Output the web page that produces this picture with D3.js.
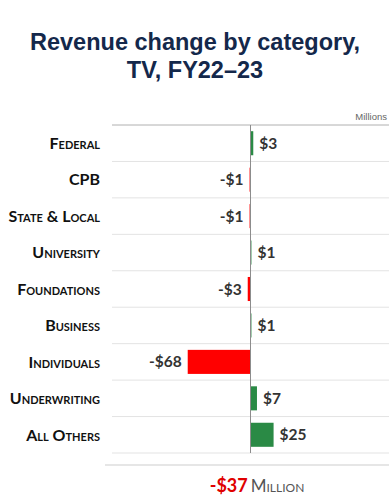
<!DOCTYPE html>
<html>
<head>
<meta charset="utf-8">
<script src="https://cdn.jsdelivr.net/npm/d3@7"></script>
<style>
  body { margin: 0; background: #fff; }
  svg { display: block; }
  .cat { font-family: Lato, "Open Sans", sans-serif; font-weight: 700; font-variant: small-caps; font-size: 16px; fill: #111; }
  .val { font-family: Lato, "Open Sans", sans-serif; font-weight: 700; font-size: 15.5px; fill: #333; }
</style>
</head>
<body>
<svg width="389" height="500"></svg>
<script>
// data
var categories = ["Federal", "CPB", "State & Local", "University", "Foundations", "Business", "Individuals", "Underwriting", "All Others"];
var changes = [3, -1, -1, 1, -3, 1, -68, 7, 25];
var valueLabels = ["$3", "-$1", "-$1", "$1", "-$3", "$1", "-$68", "$7", "$25"];
var total = "-$37";

var svg = d3.select("svg"),
    width = +svg.attr("width");

// title
var title = svg.append("text")
    .attr("x", 195)
    .attr("text-anchor", "middle")
    .style("font-family", "'Liberation Sans', Arial, sans-serif")
    .style("font-weight", "bold")
    .style("font-size", "23.5px")
    .style("fill", "#14284b");
title.append("tspan").attr("x", 195).attr("y", 50).text("Revenue change by category,");
title.append("tspan").attr("x", 195).attr("y", 78).text("TV, FY22\u201323");

var x = d3.scaleLinear()
    .domain([-150, 150])
    .range([112, 389]);

var y = d3.scaleBand()
    .domain(categories)
    .range([125, 453])
    .paddingInner(0.34)
    .paddingOuter(0.17);

var step = y.step();

svg.append("text")
    .attr("x", 387)
    .attr("y", 120)
    .attr("text-anchor", "end")
    .style("font-family", "'Liberation Sans', Arial, sans-serif")
    .style("font-size", "9.5px")
    .style("fill", "#666")
    .text("Millions");

// top line + row gridlines
var lines = [125].concat(categories.map(function(d, i) { return 125 + step * (i + 1); }));
svg.selectAll(".grid")
    .data(lines)
    .enter().append("line")
    .attr("class", "grid")
    .attr("x1", 112)
    .attr("x2", width)
    .attr("y1", function(d) { return d; })
    .attr("y2", function(d) { return d; })
    .attr("stroke", function(d, i) { return i === 0 ? "#b0b0b0" : "#e3e3e3"; })
    .attr("stroke-width", 1);

// bars
svg.selectAll(".bar")
    .data(changes)
    .enter().append("rect")
    .attr("class", "bar")
    .attr("x", function(d) { return x(Math.min(0, d)); })
    .attr("y", function(d, i) { return y(categories[i]); })
    .attr("width", function(d) { return Math.abs(x(d) - x(0)); })
    .attr("height", y.bandwidth())
    .attr("fill", function(d) { return d < 0 ? "#ff0000" : "#2a8a45"; });

// zero line
svg.append("line")
    .attr("x1", x(0)).attr("x2", x(0))
    .attr("y1", 125).attr("y2", 453)
    .attr("stroke", "#8c8c8c")
    .attr("stroke-width", 1);

// category labels
svg.selectAll(".cat")
    .data(categories)
    .enter().append("text")
    .attr("class", "cat")
    .attr("x", 100)
    .attr("y", function(d) { return y(d) + y.bandwidth() / 2; })
    .attr("dy", "0.36em")
    .attr("text-anchor", "end")
    .text(function(d) { return d; });

// value labels
svg.selectAll(".val")
    .data(changes)
    .enter().append("text")
    .attr("class", "val")
    .attr("x", function(d) { return d < 0 ? x(d) - 6 : x(d) + 6; })
    .attr("y", function(d, i) { return y(categories[i]) + y.bandwidth() / 2; })
    .attr("dy", "0.36em")
    .attr("text-anchor", function(d) { return d < 0 ? "end" : "start"; })
    .text(function(d, i) { return valueLabels[i]; });

// bottom separator and total
svg.append("line")
    .attr("x1", 105).attr("x2", width)
    .attr("y1", 465).attr("y2", 465)
    .attr("stroke", "#e6e6e6")
    .attr("stroke-width", 2);

var tot = svg.append("text")
    .attr("x", 257)
    .attr("y", 492)
    .attr("text-anchor", "middle")
    .style("font-family", "Lato, 'Open Sans', sans-serif");
tot.append("tspan")
    .style("font-weight", "bold")
    .style("font-size", "18px")
    .style("fill", "#e00000")
    .text(total);
tot.append("tspan")
    .attr("dx", 3)
    .style("font-variant", "small-caps")
    .style("font-size", "17px")
    .style("fill", "#555")
    .text("Million");
</script>
</body>
</html>
